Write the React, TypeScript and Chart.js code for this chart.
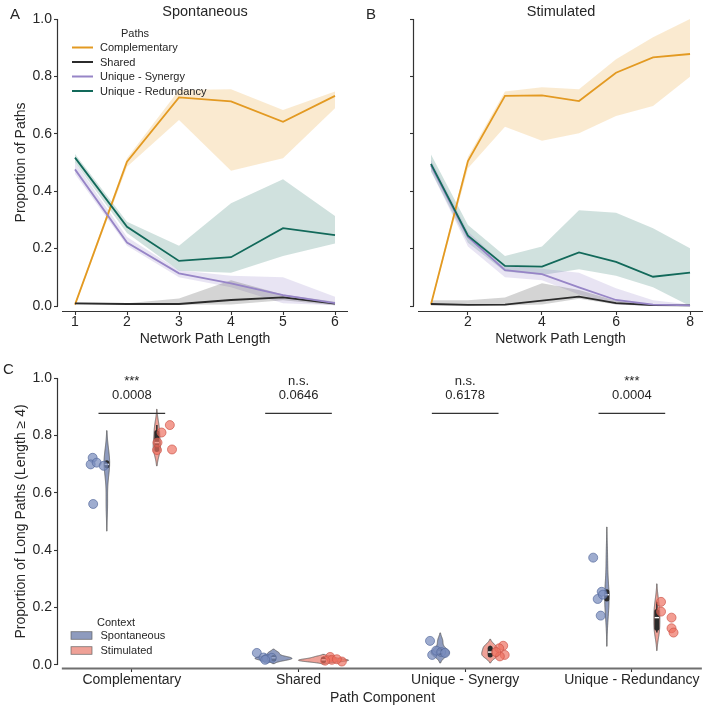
import React, { useEffect, useRef } from "react";
import { Chart, registerables } from "chart.js";

Chart.register(...registerables);

const FONT = "'Liberation Sans', Arial, Helvetica, sans-serif";
const INK = "#262626";
Chart.defaults.font.family = FONT;
Chart.defaults.color = INK;

// ---------------- Panels A / B: proportion of paths by length ----------------
const pathTypes = ["Complementary", "Shared", "Unique - Synergy", "Unique - Redundancy"];
const pathColors = ["#E39A22", "#2B2B2B", "#9785C7", "#12695A"];
const pathBandColors = [
  "rgba(232,160,40,0.22)",
  "rgba(40,40,40,0.2)",
  "rgba(150,130,200,0.22)",
  "rgba(18,105,90,0.2)",
];
const proportionTicks = [0, 0.2, 0.4, 0.6, 0.8, 1.0];

const lengthsSpont = [1, 2, 3, 4, 5, 6];
const spontComplementary = [0.005, 0.503, 0.727, 0.713, 0.642, 0.732];
const spontComplementaryLo = [0.0, 0.485, 0.648, 0.471, 0.515, 0.689];
const spontComplementaryHi = [0.01, 0.515, 0.753, 0.755, 0.683, 0.747];
const spontShared = [0.009, 0.007, 0.007, 0.021, 0.03, 0.008];
const spontSharedLo = [0.005, 0.004, 0.004, 0.005, 0.02, 0.003];
const spontSharedHi = [0.012, 0.01, 0.026, 0.09, 0.04, 0.015];
const spontSynergy = [0.476, 0.221, 0.114, 0.079, 0.038, 0.01];
const spontSynergyLo = [0.46, 0.21, 0.1, 0.065, 0.01, 0.003];
const spontSynergyHi = [0.5, 0.24, 0.125, 0.105, 0.1, 0.032];
const spontRedundancy = [0.517, 0.276, 0.157, 0.17, 0.271, 0.247];
const spontRedundancyLo = [0.5, 0.254, 0.123, 0.116, 0.174, 0.218];
const spontRedundancyHi = [0.53, 0.294, 0.21, 0.358, 0.442, 0.314];

const lengthsStim = [1, 2, 3, 4, 5, 6, 7, 8];
const stimTicks = [2, 4, 6, 8];
const stimComplementary = [0.005, 0.505, 0.732, 0.734, 0.714, 0.813, 0.866, 0.878];
const stimComplementaryLo = [0.0, 0.48, 0.625, 0.576, 0.602, 0.662, 0.697, 0.799];
const stimComplementaryHi = [0.01, 0.52, 0.747, 0.762, 0.755, 0.86, 0.936, 1.0];
const stimShared = [0.007, 0.004, 0.005, 0.019, 0.033, 0.01, 0.003, 0.002];
const stimSharedLo = [0.002, 0.002, 0.002, 0.005, 0.025, 0.005, 0.0, 0.0];
const stimSharedHi = [0.02, 0.02, 0.03, 0.079, 0.056, 0.018, 0.006, 0.003];
const stimSynergy = [0.49, 0.241, 0.125, 0.111, 0.065, 0.021, 0.005, 0.002];
const stimSynergyLo = [0.47, 0.207, 0.1, 0.09, 0.04, 0.005, 0.0, 0.0];
const stimSynergyHi = [0.51, 0.26, 0.14, 0.13, 0.116, 0.062, 0.02, 0.005];
const stimRedundancy = [0.495, 0.245, 0.14, 0.137, 0.187, 0.154, 0.102, 0.116];
const stimRedundancyLo = [0.47, 0.22, 0.12, 0.108, 0.128, 0.105, 0.065, 0.0];
const stimRedundancyHi = [0.528, 0.282, 0.174, 0.207, 0.334, 0.325, 0.271, 0.201];

// ---------------- Panel C: long paths per component ----------------
const components = ["Complementary", "Shared", "Unique - Synergy", "Unique - Redundancy"];
const contexts = ["Spontaneous", "Stimulated"];
const contextFill = ["#8E9BBE", "#EFA197"];
const contextPointFill = ["rgba(120,140,188,0.72)", "rgba(238,110,95,0.68)"];
const contextPointEdge = ["rgba(85,105,155,0.85)", "rgba(205,85,72,0.85)"];

const spontLongComplementary = [0.722, 0.699, 0.705, 0.694, 0.561];
const spontLongShared = [0.042, 0.026, 0.022, 0.025, 0.018];
const spontLongSynergy = [0.084, 0.035, 0.05, 0.045, 0.042];
const spontLongRedundancy = [0.374, 0.255, 0.23, 0.172, 0.245];
const stimLongComplementary = [0.836, 0.81, 0.751, 0.749, 0.775];
const stimLongShared = [0.028, 0.018, 0.012, 0.015, 0.02];
const stimLongSynergy = [0.067, 0.058, 0.035, 0.03, 0.045];
const stimLongRedundancy = [0.22, 0.186, 0.165, 0.128, 0.113];

// horizontal strip jitter of each point (category units)
const spontJitterComplementary = [-0.235, -0.247, -0.211, -0.169, -0.232];
const spontJitterShared = [-0.25, -0.21, -0.19, -0.16, -0.2];
const spontJitterSynergy = [-0.211, -0.198, -0.174, -0.144, -0.12];
const spontJitterRedundancy = [-0.232, -0.181, -0.205, -0.187, -0.174];
const stimJitterComplementary = [0.228, 0.178, 0.241, 0.151, 0.154];
const stimJitterShared = [0.19, 0.2, 0.26, 0.16, 0.23];
const stimJitterSynergy = [0.228, 0.204, 0.237, 0.208, 0.186];
const stimJitterRedundancy = [0.175, 0.175, 0.238, 0.238, 0.25];

const sigStars = ["***", "n.s.", "n.s.", "***"];
const sigPValues = ["0.0008", "0.0646", "0.6178", "0.0004"];
const sigBarLevel = 0.877;

// ---------------- helpers ----------------
function fixedTicks(values: number[]) {
  return (scale: any) => {
    scale.ticks = values.map((v) => ({ value: v }));
  };
}

function axis(min: number, max: number, tickValues: number[], extra: any = {}) {
  return {
    type: "linear",
    min,
    max,
    afterBuildTicks: fixedTicks(tickValues),
    border: { display: false },
    grid: {
      display: true,
      drawOnChartArea: false,
      drawTicks: true,
      tickLength: 4,
      tickWidth: 1.1,
      tickColor: "#333",
      color: "#333",
    },
    ...extra,
    ticks: {
      color: INK,
      font: { family: FONT, size: 14 },
      autoSkip: false,
      maxRotation: 0,
      minRotation: 0,
      ...(extra.ticks || {}),
    },
  };
}

type TextItem = {
  text: string;
  x: number;
  y: number;
  size: number;
  align?: CanvasTextAlign;
  baseline?: CanvasTextBaseline;
  rotate?: boolean;
};

function textPlugin(id: string, items: TextItem[]) {
  return {
    id,
    afterDraw(chart: any) {
      const ctx = chart.ctx as CanvasRenderingContext2D;
      ctx.save();
      ctx.fillStyle = INK;
      for (const it of items) {
        ctx.save();
        ctx.font = `${it.size}px ${FONT}`;
        ctx.textAlign = it.align || "center";
        ctx.textBaseline = it.baseline || "alphabetic";
        ctx.translate(it.x, it.y);
        if (it.rotate) ctx.rotate(-Math.PI / 2);
        ctx.fillText(it.text, 0, 0);
        ctx.restore();
      }
      ctx.restore();
    },
  };
}

function spinesPlugin(xFrom: number, xTo: number, xColor: string, xWidth: number) {
  return {
    id: "spines",
    afterDraw(chart: any) {
      const { ctx, chartArea, scales } = chart;
      const x = scales.x;
      const y = scales.y;
      ctx.save();
      ctx.lineCap = "butt";
      ctx.strokeStyle = "#333";
      ctx.lineWidth = 1.2;
      ctx.beginPath();
      ctx.moveTo(chartArea.left - 0.5, y.getPixelForValue(0));
      ctx.lineTo(chartArea.left - 0.5, y.getPixelForValue(1));
      ctx.stroke();
      ctx.strokeStyle = xColor;
      ctx.lineWidth = xWidth;
      ctx.beginPath();
      ctx.moveTo(x.getPixelForValue(xFrom), chartArea.bottom + 0.5);
      ctx.lineTo(x.getPixelForValue(xTo), chartArea.bottom + 0.5);
      ctx.stroke();
      ctx.restore();
    },
  };
}

type Series = { mean: number[]; lo: number[]; hi: number[] };

function lineDatasets(xs: number[], series: Series[]) {
  const ds: any[] = [];
  series.forEach((s, i) => {
    const loIndex = ds.length;
    ds.push({
      data: xs.map((x, j) => ({ x, y: s.lo[j] })),
      borderColor: "rgba(0,0,0,0)",
      borderWidth: 0,
      pointRadius: 0,
      fill: false,
      order: 20 + i,
    });
    ds.push({
      data: xs.map((x, j) => ({ x, y: s.hi[j] })),
      borderColor: "rgba(0,0,0,0)",
      borderWidth: 0,
      pointRadius: 0,
      backgroundColor: pathBandColors[i],
      fill: { target: loIndex },
      order: 20 + i,
    });
  });
  series.forEach((s, i) => {
    ds.push({
      label: pathTypes[i],
      data: xs.map((x, j) => ({ x, y: s.mean[j] })),
      borderColor: pathColors[i],
      borderWidth: 1.8,
      pointRadius: 0,
      fill: false,
      tension: 0,
      order: 3 - i,
    });
  });
  return ds;
}

const pathLegendPlugin = {
  id: "pathLegend",
  afterDraw(chart: any) {
    const ctx = chart.ctx as CanvasRenderingContext2D;
    ctx.save();
    ctx.font = `11px ${FONT}`;
    ctx.fillStyle = INK;
    ctx.textAlign = "center";
    ctx.textBaseline = "alphabetic";
    ctx.fillText("Paths", 135, 36.5);
    ctx.textAlign = "left";
    ctx.textBaseline = "middle";
    pathTypes.forEach((name, i) => {
      const yy = 47.5 + i * 14.5;
      ctx.strokeStyle = pathColors[i];
      ctx.lineWidth = 2;
      ctx.beginPath();
      ctx.moveTo(72, yy);
      ctx.lineTo(93, yy);
      ctx.stroke();
      ctx.fillText(name, 100, yy + 0.5);
    });
    ctx.restore();
  },
};

function kde(vals: number[]) {
  const n = vals.length;
  const mean = vals.reduce((a, b) => a + b, 0) / n;
  const sd = Math.sqrt(vals.reduce((a, b) => a + (b - mean) ** 2, 0) / (n - 1));
  const bw = sd * Math.pow(n, -1 / 5);
  const lo = Math.min(...vals) - 2 * bw;
  const hi = Math.max(...vals) + 2 * bw;
  const grid: number[] = [];
  const dens: number[] = [];
  const steps = 160;
  for (let i = 0; i <= steps; i++) {
    const yy = lo + ((hi - lo) * i) / steps;
    let d = 0;
    for (const v of vals) d += Math.exp(-0.5 * ((yy - v) / bw) ** 2);
    d /= n * bw * Math.sqrt(2 * Math.PI);
    grid.push(yy);
    dens.push(d);
  }
  return { grid, dens };
}

function percentile(sorted: number[], p: number) {
  const pos = p * (sorted.length - 1);
  const i = Math.floor(pos);
  const f = pos - i;
  return i + 1 < sorted.length ? sorted[i] * (1 - f) + sorted[i + 1] * f : sorted[i];
}

function violinPlugin(groupsByContext: number[][][]) {
  return {
    id: "violins",
    beforeDatasetsDraw(chart: any) {
      const { ctx, scales } = chart;
      const x = scales.x;
      const y = scales.y;
      const groups: any[] = [];
      groupsByContext.forEach((byComp, ci) =>
        byComp.forEach((vals, k) => groups.push({ ci, k, vals, ...kde(vals) }))
      );
      const maxD = Math.max(...groups.map((g) => Math.max(...g.dens)));
      const unit = x.getPixelForValue(1) - x.getPixelForValue(0);
      const halfMax = 0.15 * unit;
      ctx.save();
      for (const g of groups) {
        const cx = x.getPixelForValue(g.k + (g.ci === 0 ? -0.15 : 0.15));
        ctx.beginPath();
        g.grid.forEach((yy: number, i: number) => {
          const w = (g.dens[i] / maxD) * halfMax;
          const py = y.getPixelForValue(yy);
          if (i === 0) ctx.moveTo(cx + w, py);
          else ctx.lineTo(cx + w, py);
        });
        for (let i = g.grid.length - 1; i >= 0; i--) {
          const w = (g.dens[i] / maxD) * halfMax;
          ctx.lineTo(cx - w, y.getPixelForValue(g.grid[i]));
        }
        ctx.closePath();
        ctx.fillStyle = contextFill[g.ci];
        ctx.fill();
        ctx.strokeStyle = "rgba(90,90,90,0.9)";
        ctx.lineWidth = 0.9;
        ctx.stroke();

        const s = [...g.vals].sort((a: number, b: number) => a - b);
        const q1 = percentile(s, 0.25);
        const q2 = percentile(s, 0.5);
        const q3 = percentile(s, 0.75);
        const iqr = q3 - q1;
        const wLo = Math.min(...s.filter((v: number) => v >= q1 - 1.5 * iqr));
        const wHi = Math.max(...s.filter((v: number) => v <= q3 + 1.5 * iqr));
        ctx.strokeStyle = "#2a2a2a";
        ctx.lineCap = "butt";
        ctx.lineWidth = 1.5;
        ctx.beginPath();
        ctx.moveTo(cx, y.getPixelForValue(wLo));
        ctx.lineTo(cx, y.getPixelForValue(wHi));
        ctx.stroke();
        ctx.lineWidth = 5;
        ctx.lineCap = "round";
        ctx.beginPath();
        ctx.moveTo(cx, y.getPixelForValue(q1));
        ctx.lineTo(cx, y.getPixelForValue(q3));
        ctx.stroke();
        ctx.strokeStyle = "#ffffff";
        ctx.lineWidth = 1.4;
        ctx.lineCap = "butt";
        ctx.beginPath();
        ctx.moveTo(cx - 2.2, y.getPixelForValue(q2));
        ctx.lineTo(cx + 2.2, y.getPixelForValue(q2));
        ctx.stroke();
      }
      ctx.restore();
    },
  };
}

const significancePlugin = {
  id: "significance",
  afterDraw(chart: any) {
    const { ctx, scales } = chart;
    const x = scales.x;
    const y = scales.y;
    ctx.save();
    const ly = y.getPixelForValue(sigBarLevel);
    components.forEach((_, k) => {
      ctx.strokeStyle = "#333";
      ctx.lineWidth = 1.3;
      ctx.beginPath();
      ctx.moveTo(x.getPixelForValue(k - 0.2), ly);
      ctx.lineTo(x.getPixelForValue(k + 0.2), ly);
      ctx.stroke();
      ctx.fillStyle = INK;
      ctx.textAlign = "center";
      ctx.textBaseline = "alphabetic";
      ctx.font = `13px ${FONT}`;
      const cx = x.getPixelForValue(k);
      ctx.fillText(sigStars[k], cx, ly - 28.5);
      ctx.fillText(sigPValues[k], cx, ly - 14);
    });
    ctx.restore();
  },
};

const contextLegendPlugin = {
  id: "contextLegend",
  afterDraw(chart: any) {
    const ctx = chart.ctx as CanvasRenderingContext2D;
    ctx.save();
    ctx.font = `11px ${FONT}`;
    ctx.fillStyle = INK;
    ctx.textAlign = "center";
    ctx.textBaseline = "alphabetic";
    ctx.fillText("Context", 116, 626);
    ctx.textAlign = "left";
    ctx.textBaseline = "middle";
    contexts.forEach((name, i) => {
      const yy = 635.5 + i * 15;
      ctx.fillStyle = contextFill[i];
      ctx.fillRect(71, yy - 3.8, 21, 7.6);
      ctx.strokeStyle = "rgba(90,90,90,0.8)";
      ctx.lineWidth = 0.8;
      ctx.strokeRect(71, yy - 3.8, 21, 7.6);
      ctx.fillStyle = INK;
      ctx.fillText(name, 100.5, yy + 0.5);
    });
    ctx.restore();
  },
};

// ---------------- chart configs ----------------
function configA(): any {
  const series: Series[] = [
    { mean: spontComplementary, lo: spontComplementaryLo, hi: spontComplementaryHi },
    { mean: spontShared, lo: spontSharedLo, hi: spontSharedHi },
    { mean: spontSynergy, lo: spontSynergyLo, hi: spontSynergyHi },
    { mean: spontRedundancy, lo: spontRedundancyLo, hi: spontRedundancyHi },
  ];
  return {
    type: "line",
    data: { datasets: lineDatasets(lengthsSpont, series) },
    options: {
      animation: false,
      responsive: false,
      devicePixelRatio: 1,
      events: [],
      layout: { padding: { left: 0, top: 19, right: 360, bottom: 0 } },
      plugins: { legend: { display: false }, tooltip: { enabled: false }, title: { display: false } },
      scales: {
        x: axis(0.673, 6.25, lengthsSpont, {
          ticks: { padding: -1.5 },
          afterFit: (s: any) => {
            s.height = 709 - 311;
          },
        }),
        y: axis(-0.0174, 1, proportionTicks, {
          ticks: { padding: 2, callback: (v: any) => Number(v).toFixed(1) },
          afterFit: (s: any) => {
            s.width = 58;
          },
        }),
      },
    },
    plugins: [
      spinesPlugin(0.75, 6.25, "#333", 1.2),
      pathLegendPlugin,
      textPlugin("textsA", [
        { text: "A", x: 15, y: 18.5, size: 15 },
        { text: "Spontaneous", x: 205, y: 15.5, size: 14.5 },
        { text: "Proportion of Paths", x: 21, y: 162.5, size: 14, rotate: true, baseline: "middle" },
        { text: "Network Path Length", x: 205, y: 343, size: 14 },
      ]),
    ],
  };
}

function configB(): any {
  const series: Series[] = [
    { mean: stimComplementary, lo: stimComplementaryLo, hi: stimComplementaryHi },
    { mean: stimShared, lo: stimSharedLo, hi: stimSharedHi },
    { mean: stimSynergy, lo: stimSynergyLo, hi: stimSynergyHi },
    { mean: stimRedundancy, lo: stimRedundancyLo, hi: stimRedundancyHi },
  ];
  return {
    type: "line",
    data: { datasets: lineDatasets(lengthsStim, series) },
    options: {
      animation: false,
      responsive: false,
      devicePixelRatio: 1,
      events: [],
      layout: { padding: { left: 0, top: 19, right: 5, bottom: 0 } },
      plugins: { legend: { display: false }, tooltip: { enabled: false }, title: { display: false } },
      scales: {
        x: axis(0.542, 8.35, stimTicks, {
          ticks: { padding: -1.5 },
          afterFit: (s: any) => {
            s.height = 709 - 311;
          },
        }),
        y: axis(-0.0174, 1, proportionTicks, {
          ticks: { display: false },
          afterFit: (s: any) => {
            s.width = 414;
          },
        }),
      },
    },
    plugins: [
      spinesPlugin(0.65, 8.35, "#333", 1.2),
      textPlugin("textsB", [
        { text: "B", x: 371, y: 18.5, size: 15 },
        { text: "Stimulated", x: 561, y: 15.5, size: 14.5 },
        { text: "Network Path Length", x: 560.5, y: 343, size: 14 },
      ]),
    ],
  };
}

function configC(): any {
  const spontValues = [spontLongComplementary, spontLongShared, spontLongSynergy, spontLongRedundancy];
  const stimValues = [stimLongComplementary, stimLongShared, stimLongSynergy, stimLongRedundancy];
  const spontJitter = [spontJitterComplementary, spontJitterShared, spontJitterSynergy, spontJitterRedundancy];
  const stimJitter = [stimJitterComplementary, stimJitterShared, stimJitterSynergy, stimJitterRedundancy];
  const toPoints = (vals: number[][], jit: number[][]) =>
    vals.flatMap((arr, k) => arr.map((v, j) => ({ x: k + jit[k][j], y: v })));
  return {
    type: "scatter",
    data: {
      datasets: [
        {
          label: contexts[0],
          data: toPoints(spontValues, spontJitter),
          backgroundColor: contextPointFill[0],
          borderColor: contextPointEdge[0],
          borderWidth: 0.8,
          pointRadius: 4.5,
        },
        {
          label: contexts[1],
          data: toPoints(stimValues, stimJitter),
          backgroundColor: contextPointFill[1],
          borderColor: contextPointEdge[1],
          borderWidth: 0.8,
          pointRadius: 4.5,
        },
      ],
    },
    options: {
      animation: false,
      responsive: false,
      devicePixelRatio: 1,
      events: [],
      layout: { padding: { left: 0, top: 378, right: 4, bottom: 0 } },
      plugins: { legend: { display: false }, tooltip: { enabled: false }, title: { display: false } },
      scales: {
        x: axis(-0.443, 3.425, [0, 1, 2, 3], {
          ticks: { padding: 0, callback: (v: any) => components[Number(v)] ?? "" },
          afterFit: (s: any) => {
            s.height = 709 - 668;
          },
        }),
        y: axis(-0.0105, 1, proportionTicks, {
          ticks: { padding: 2, callback: (v: any) => Number(v).toFixed(1) },
          afterFit: (s: any) => {
            s.width = 58;
          },
        }),
      },
    },
    plugins: [
      violinPlugin([spontValues, stimValues]),
      spinesPlugin(-0.42, 3.42, "#6f6f6f", 1.8),
      significancePlugin,
      contextLegendPlugin,
      textPlugin("textsC", [
        { text: "C", x: 8.5, y: 373.5, size: 15 },
        { text: "Proportion of Long Paths (Length \u2265 4)", x: 21, y: 521.5, size: 14, rotate: true, baseline: "middle" },
        { text: "Path Component", x: 382.5, y: 702, size: 14 },
      ]),
    ],
  };
}

export default function App() {
  const aRef = useRef<HTMLCanvasElement>(null);
  const bRef = useRef<HTMLCanvasElement>(null);
  const cRef = useRef<HTMLCanvasElement>(null);

  useEffect(() => {
    const charts = [
      new Chart(aRef.current as HTMLCanvasElement, configA()),
      new Chart(bRef.current as HTMLCanvasElement, configB()),
      new Chart(cRef.current as HTMLCanvasElement, configC()),
    ];
    return () => charts.forEach((c) => c.destroy());
  }, []);

  const cs: React.CSSProperties = { position: "absolute", left: 0, top: 0, width: 708, height: 709 };
  return (
    <div
      style={{
        position: "absolute",
        left: 0,
        top: 0,
        width: 708,
        height: 709,
        background: "#ffffff",
        overflow: "hidden",
      }}
    >
      <canvas ref={aRef} width={708} height={709} style={cs} />
      <canvas ref={bRef} width={708} height={709} style={cs} />
      <canvas ref={cRef} width={708} height={709} style={cs} />
    </div>
  );
}
